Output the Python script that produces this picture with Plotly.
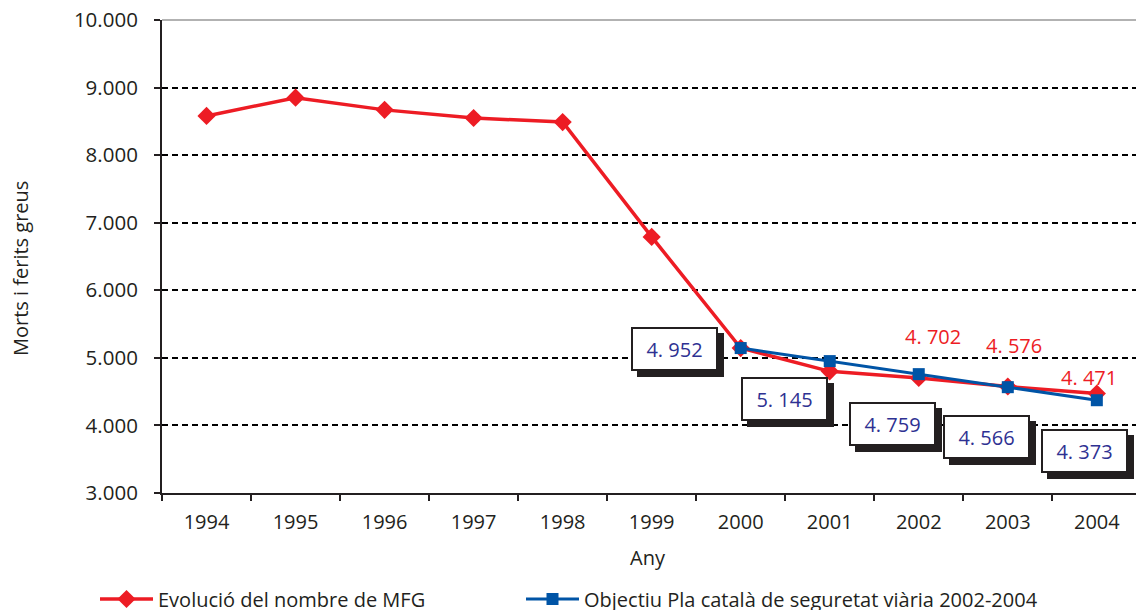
import plotly.graph_objects as go

years = ["1994", "1995", "1996", "1997", "1998", "1999", "2000", "2001", "2002", "2003", "2004"]
mfg_values = [8580, 8850, 8670, 8550, 8490, 6790, 5145, 4800, 4702, 4576, 4471]
target_years = ["2000", "2001", "2002", "2003", "2004"]
target_values = [5145, 4952, 4759, 4566, 4373]
y_tickvals = [3000, 4000, 5000, 6000, 7000, 8000, 9000, 10000]
y_ticktext = ["3.000", "4.000", "5.000", "6.000", "7.000", "8.000", "9.000", "10.000"]

# boxed labels as printed in the source, next to the target points
blue_label_values = [4952, 5145, 4759, 4566, 4373]
blue_label_shift = [(-66, -1), (-45, -38), (-26, -50), (-21, -50), (-12, -51)]
# red labels (anchor year, value, pixel offsets)
red_label_years = ["2002", "2003", "2004"]
red_label_values = [4702, 4576, 4471]
red_label_shift = [(14, 41), (6, 41), (-8, 16)]

RED = "#ED1C24"
BLUE = "#0054A6"
LABEL_BLUE = "#2E3192"
DARK = "#231F20"
FONT = "Open Sans"


def fmt(v):
    return f"{v // 1000}. {v % 1000:03d}"


fig = go.Figure()
fig.add_trace(go.Scatter(
    x=years, y=mfg_values, mode="lines+markers", name="Evolució del nombre de MFG",
    line=dict(color=RED, width=3.5), marker=dict(symbol="diamond", size=14, color=RED),
    legend="legend",
))
fig.add_trace(go.Scatter(
    x=target_years, y=target_values, mode="lines+markers",
    name="Objectiu Pla català de seguretat viària 2002-2004",
    line=dict(color=BLUE, width=3), marker=dict(symbol="square", size=12, color=BLUE),
    legend="legend2",
))

annotations = []
for yr, v, lv, (dx, dy) in zip(target_years, target_values, blue_label_values, blue_label_shift):
    xi = years.index(yr)
    annotations.append(dict(
        x=xi, y=v, xref="x", yref="y", text=fmt(lv), showarrow=False,
        xshift=dx + 6, yshift=dy - 6, width=79, height=36, borderpad=2,
        bgcolor=DARK, bordercolor=DARK, borderwidth=2,
        font=dict(family=FONT, size=20, color=DARK),
    ))
    annotations.append(dict(
        x=xi, y=v, xref="x", yref="y", text=fmt(lv), showarrow=False,
        xshift=dx, yshift=dy, width=79, height=36, borderpad=2,
        bgcolor="white", bordercolor=DARK, borderwidth=2,
        font=dict(family=FONT, size=20, color=LABEL_BLUE),
    ))
for yr, v, (dx, dy) in zip(red_label_years, red_label_values, red_label_shift):
    annotations.append(dict(
        x=years.index(yr), y=v, xref="x", yref="y", text=fmt(v), showarrow=False,
        xshift=dx, yshift=dy, font=dict(family=FONT, size=20, color=RED),
    ))

annotations.append(dict(
    x=(648 - 162) / 974, y=(493 - 557) / 473, xref="paper", yref="paper",
    xanchor="center", yanchor="middle",
    text="Any", showarrow=False, font=dict(family=FONT, size=20, color=DARK),
))
annotations.append(dict(
    x=(20 - 162) / 974, y=(493 - 269) / 473, xref="paper", yref="paper",
    xanchor="center", yanchor="middle",
    text="Morts i ferits greus", textangle=-90, showarrow=False,
    font=dict(family=FONT, size=20, color=DARK),
))

legend_common = dict(
    orientation="h", xref="container", yref="container",
    xanchor="left", yanchor="middle", itemwidth=53,
    font=dict(family=FONT, size=20, color=DARK),
    bgcolor="rgba(0,0,0,0)",
)

fig.update_layout(
    width=1136, height=610,
    margin=dict(l=162, r=0, t=20, b=117, autoexpand=False),
    paper_bgcolor="white", plot_bgcolor="white",
    font=dict(family=FONT, size=20, color=DARK),
    showlegend=True,
    legend=dict(legend_common, x=95 / 1136, y=(610 - 599) / 610),
    legend2=dict(legend_common, x=521 / 1136, y=(610 - 599) / 610),
    annotations=annotations,
    shapes=[dict(type="line", xref="paper", yref="paper", x0=0, x1=1, y0=1, y1=1,
                 line=dict(color="#999999", width=1.5), layer="below")],
)
fig.update_xaxes(
    type="category", categoryorder="array", categoryarray=years,
    range=[-0.5, 10.44], showgrid=False, zeroline=False, automargin=False,
    showline=True, linecolor=DARK, linewidth=2,
    ticks="outside", tickson="boundaries", ticklen=6, tickwidth=1.5, tickcolor=DARK,
    ticklabelstandoff=10,
    tickfont=dict(family=FONT, size=20, color=DARK),
)
fig.update_yaxes(
    range=[3000, 10000], tickvals=y_tickvals, ticktext=y_ticktext,
    showgrid=True, gridcolor="black", gridwidth=2, griddash="6px,4px",
    zeroline=False, showline=True, linecolor=DARK, linewidth=2, automargin=False,
    ticks="outside", ticklen=6, tickwidth=1.5, tickcolor=DARK,
    ticklabelstandoff=12,
    tickfont=dict(family=FONT, size=20.5, color=DARK),
)

fig.write_html("out.html", config={"displayModeBar": False},
               post_script="document.body.style.margin='0';")
